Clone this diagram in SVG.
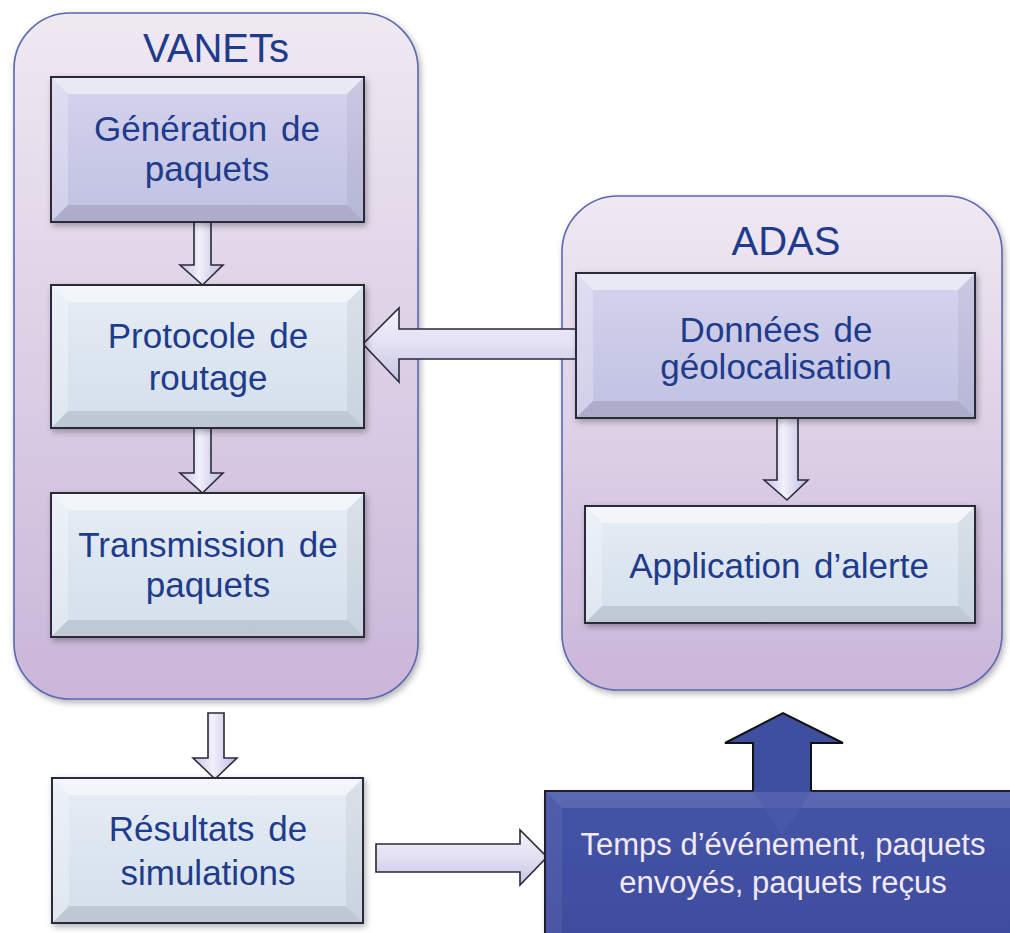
<svg xmlns="http://www.w3.org/2000/svg" width="1010" height="933" viewBox="0 0 1010 933">
<defs>
<linearGradient id="gCont" x1="0" y1="0" x2="0" y2="1">
<stop offset="0" stop-color="#efe9f2"/><stop offset="1" stop-color="#cab6d9"/>
</linearGradient>
<linearGradient id="gLav" x1="0" y1="0" x2="0" y2="1">
<stop offset="0" stop-color="#d4d4ee"/><stop offset="1" stop-color="#c0c0e2"/>
</linearGradient>
<linearGradient id="gLight" x1="0" y1="0" x2="0" y2="1">
<stop offset="0" stop-color="#e6edf5"/><stop offset="1" stop-color="#d3dfeb"/>
</linearGradient>
<linearGradient id="gDark" x1="0" y1="0" x2="0" y2="1">
<stop offset="0" stop-color="#4454a6"/><stop offset="1" stop-color="#3e4d9e"/>
</linearGradient>
<linearGradient id="gArrV" x1="0" y1="0" x2="1" y2="0">
<stop offset="0" stop-color="#c4c2e4"/><stop offset="0.45" stop-color="#f2f0fa"/><stop offset="1" stop-color="#bdbbe0"/>
</linearGradient>
<linearGradient id="gArrH" x1="0" y1="0" x2="0" y2="1">
<stop offset="0" stop-color="#f4f2fb"/><stop offset="0.5" stop-color="#e2e0f2"/><stop offset="1" stop-color="#c6c4e6"/>
</linearGradient>
<filter id="sh" x="-10%" y="-10%" width="120%" height="125%">
<feDropShadow dx="2" dy="3" stdDeviation="3" flood-color="#000" flood-opacity="0.3"/>
</filter>
</defs>
<style>
.cont{fill:url(#gCont);stroke:#5d68b0;stroke-width:1.6}
.title{font-family:"Liberation Sans",Arial,sans-serif;font-size:40px;fill:#1f3b8c;text-anchor:middle}
.lbl{font-family:"Liberation Sans",Arial,sans-serif;font-size:35px;fill:#1f3b8c;text-anchor:middle;word-spacing:4px}
.lbl2{font-family:"Liberation Sans",Arial,sans-serif;font-size:31px;fill:#f3e9f4;text-anchor:middle}
.lav{fill:url(#gLav);stroke:#2a2a3a;stroke-width:2}
.lgt{fill:url(#gLight);stroke:#2a2a3a;stroke-width:2}
.bt{fill:#fff;opacity:0.5}
.bl{fill:#fff;opacity:0.25}
.br{fill:#000;opacity:0.05}
.bb{fill:#000;opacity:0.1}
.arr{fill:url(#gArrV);stroke:#2a2a3a;stroke-width:1.6;stroke-linejoin:miter}
.arrh{fill:url(#gArrH);stroke:#2a2a3a;stroke-width:1.6}
</style>
<rect width="1010" height="933" fill="#fff"/>

<g id="vanets">
<rect class="cont" x="14" y="13" width="404" height="686" rx="56" ry="56" filter="url(#sh)"/>
<text class="title" x="216" y="62">VANETs</text>
</g>
<g id="adas">
<rect class="cont" x="562" y="196" width="440" height="494" rx="56" ry="56" filter="url(#sh)"/>
<text class="title" x="786" y="255">ADAS</text>
</g>

<g id="connectors">
<path class="arr" d="M194,222 H211 V265 H223 L202.5,285 L180,265 H194 Z"/>
<path class="arr" d="M194,428 H211 V473 H223 L202.5,493 L180,473 H194 Z"/>
<path class="arrh" d="M600,329 H399 V308 L363,344 L399,382 V359 H600 Z"/>
<path class="arr" d="M777,418 H798 V480 H808 L787,500 L764,480 H777 Z"/>
<path class="arr" d="M208,713 H224 V758 H237 L215,779 L193,758 H208 Z"/>
<path class="arrh" d="M376,844 H520 V830 L547,857 L520,885 V872 H376 Z"/>
</g>

<g id="n_generation" filter="url(#sh)">
<rect class="lav" x="51" y="77" width="313" height="145"/>
<polygon class="bt" points="52,78 363,78 347,94 68,94"/>
<polygon class="bl" points="52,78 68,94 68,205 52,221"/>
<polygon class="br" points="363,78 363,221 347,205 347,94"/>
<polygon class="bb" points="52,221 68,205 347,205 363,221"/>
</g>
<text class="lbl" x="207" y="141">Génération de</text>
<text class="lbl" x="207" y="181">paquets</text>

<g id="n_protocole" filter="url(#sh)">
<rect class="lgt" x="51" y="285" width="313" height="143"/>
<polygon class="bt" points="52,286 363,286 347,302 68,302"/>
<polygon class="bl" points="52,286 68,302 68,411 52,427"/>
<polygon class="br" points="363,286 363,427 347,411 347,302"/>
<polygon class="bb" points="52,427 68,411 347,411 363,427"/>
</g>
<text class="lbl" x="208" y="348">Protocole de</text>
<text class="lbl" x="208" y="390">routage</text>

<g id="n_transmission" filter="url(#sh)">
<rect class="lgt" x="51" y="493" width="313" height="144"/>
<polygon class="bt" points="52,494 363,494 347,510 68,510"/>
<polygon class="bl" points="52,494 68,510 68,620 52,636"/>
<polygon class="br" points="363,494 363,636 347,620 347,510"/>
<polygon class="bb" points="52,636 68,620 347,620 363,636"/>
</g>
<text class="lbl" x="208" y="557">Transmission de</text>
<text class="lbl" x="208" y="597">paquets</text>

<g id="n_donnees" filter="url(#sh)">
<rect class="lav" x="576" y="273" width="399" height="145"/>
<polygon class="bt" points="577,274 974,274 958,290 593,290"/>
<polygon class="bl" points="577,274 593,290 593,401 577,417"/>
<polygon class="br" points="974,274 974,417 958,401 958,290"/>
<polygon class="bb" points="577,417 593,401 958,401 974,417"/>
</g>
<text class="lbl" x="776" y="342">Données de</text>
<text class="lbl" x="776" y="379">géolocalisation</text>

<g id="n_application" filter="url(#sh)">
<rect class="lgt" x="585" y="506" width="390" height="117"/>
<polygon class="bt" points="586,507 974,507 958,523 602,523"/>
<polygon class="bl" points="586,507 602,523 602,606 586,622"/>
<polygon class="br" points="974,507 974,622 958,606 958,523"/>
<polygon class="bb" points="586,622 602,606 958,606 974,622"/>
</g>
<text class="lbl" x="779" y="578">Application d’alerte</text>

<g id="n_resultats" filter="url(#sh)">
<rect class="lgt" x="52" y="778" width="311" height="145"/>
<polygon class="bt" points="53,779 362,779 346,795 69,795"/>
<polygon class="bl" points="53,779 69,795 69,906 53,922"/>
<polygon class="br" points="362,779 362,922 346,906 346,795"/>
<polygon class="bb" points="53,922 69,906 346,906 362,922"/>
</g>
<text class="lbl" x="208" y="841">Résultats de</text>
<text class="lbl" x="208" y="885">simulations</text>

<g id="n_temps">
<rect x="545" y="791" width="470" height="150" fill="url(#gDark)" filter="url(#sh)"/>
<polygon points="546,792 1012,792 1012,808 562,808" fill="#fff" opacity="0.12"/>
<polygon points="546,792 562,808 562,935 546,935" fill="#fff" opacity="0.06"/>
<path d="M545,935 V791 H753 M811,791 H1012" fill="none" stroke="#1e1e2e" stroke-width="2"/>
<polygon points="753,792 753,743 725,743 783,713 843,743 811,743 811,792" fill="#3f4fa0"/>
<polygon points="753,792 811,792 782,835" fill="#4c5cae" opacity="0.6"/>
<polyline points="753,791 753,743 725,743 783,713 843,743 811,743 811,791" fill="none" stroke="#111" stroke-width="2" stroke-linejoin="miter"/>
<text class="lbl2" x="783" y="855">Temps d’événement, paquets</text>
<text class="lbl2" x="783" y="893">envoyés, paquets reçus</text>
</g>
</svg>
